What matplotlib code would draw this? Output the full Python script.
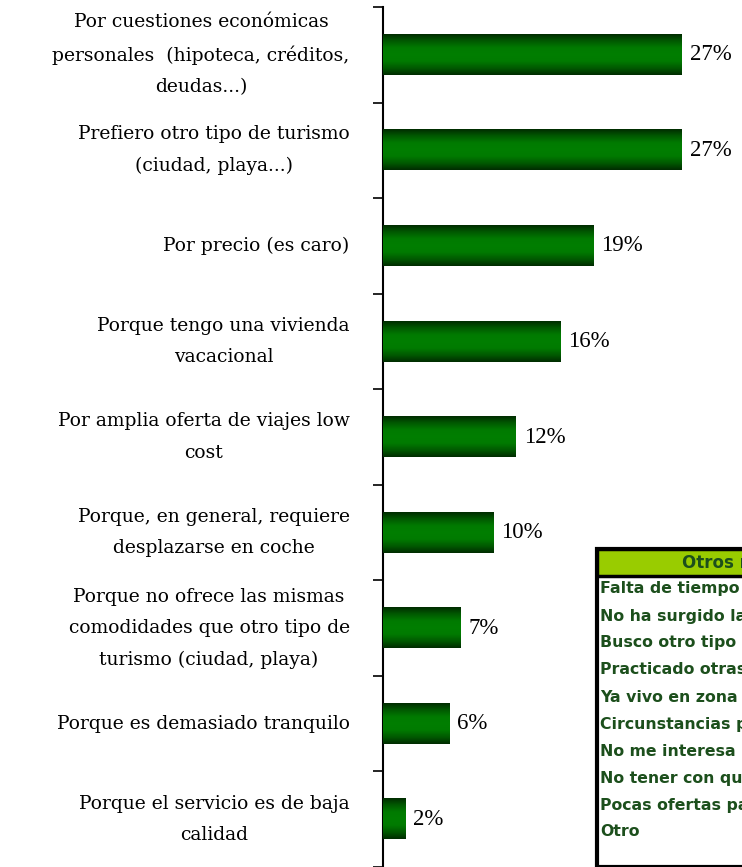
import matplotlib.pyplot as plt
import numpy as np
from matplotlib.colors import LinearSegmentedColormap
from matplotlib.patches import Rectangle

# data
labels = [
    "Por cuestiones económicas\npersonales  (hipoteca, créditos,\ndeudas...)",
    "Prefiero otro tipo de turismo\n(ciudad, playa...)",
    "Por precio (es caro)",
    "Porque tengo una vivienda\nvacacional",
    "Por amplia oferta de viajes low\ncost",
    "Porque, en general, requiere\ndesplazarse en coche",
    "Porque no ofrece las mismas\ncomodidades que otro tipo de\nturismo (ciudad, playa)",
    "Porque es demasiado tranquilo",
    "Porque el servicio es de baja\ncalidad",
]
values = [27, 27, 19, 16, 12, 10, 7, 6, 2]
others_title = "Otros motivos"
others = [
    "Falta de tiempo",
    "No ha surgido la ocasión",
    "Busco otro tipo de turismo",
    "Practicado otras veces",
    "Ya vivo en zona rural",
    "Circunstancias personales",
    "No me interesa",
    "No tener con quién ir",
    "Pocas ofertas para jóvenes",
    "Otro",
]

W, H = 742, 867
fig = plt.figure(figsize=(W / 100, H / 100), dpi=100)
ax_w = W - 383
ax = fig.add_axes([383 / W, 0.0, ax_w / W, (H - 7) / H])

n = len(values)
y = np.arange(n)
bars = ax.barh(y, values, height=0.42, color="#007a00", zorder=2)
ax.set_ylim(n - 0.5, -0.5)
ax.set_xlim(0, ax_w / 11.07)

# gradient fill on the bars
cmap = LinearSegmentedColormap.from_list(
    "g", ["#002d00", "#005a00", "#007a00", "#007e00", "#007a00", "#005a00", "#002d00"])
grad = np.linspace(0, 1, 64).reshape(-1, 1)
for b in bars:
    x0, y0, w, h = b.get_x(), b.get_y(), b.get_width(), b.get_height()
    ax.imshow(grad, cmap=cmap, aspect="auto", extent=(x0, x0 + w, y0 + h, y0),
              zorder=3, interpolation="bilinear")
    ax.text(x0 + w + 0.7, y0 + h / 2, f"{int(w)}%", va="center", ha="left",
            fontsize=16.5, family="Liberation Serif", color="black", zorder=4)

ax.set_yticks(y)
ax.set_yticklabels(labels, family="DejaVu Serif", fontsize=13.5,
                   multialignment="center", linespacing=1.95)
for lab in ax.get_yticklabels():
    lab.set_va("center")
ax.set_yticks(np.arange(n + 1) - 0.5, minor=True)
ax.tick_params(axis="y", which="major", length=0, pad=24)
ax.tick_params(axis="y", which="minor", length=7, width=1.2, direction="out")
ax.set_xticks([])
for s in ["top", "right", "bottom"]:
    ax.spines[s].set_visible(False)
ax.spines["left"].set_linewidth(1.5)

# "Otros" box
tx = fig.add_axes([597 / W, 0.0, 0.4, (H - 549) / H])
tx.set_xlim(0, 300)
tx.set_ylim(318, 0)
tx.axis("off")
tx.add_patch(Rectangle((0, 0), 300, 318, facecolor="white", edgecolor="black", lw=3, clip_on=False))
tx.add_patch(Rectangle((0, 0), 300, 27, facecolor="#99cc00", edgecolor="black", lw=2.5))
tx.text(86, 14, others_title, ha="left", va="center", fontsize=12,
        family="DejaVu Sans", fontweight="bold", color="#1c4f1c")
for i, t in enumerate(others):
    tx.text(3, 40 + i * 27, t, ha="left", va="center", fontsize=11.3,
            family="DejaVu Sans", fontweight="bold", color="#1c4f1c")

fig.savefig("out.png", dpi=100)
